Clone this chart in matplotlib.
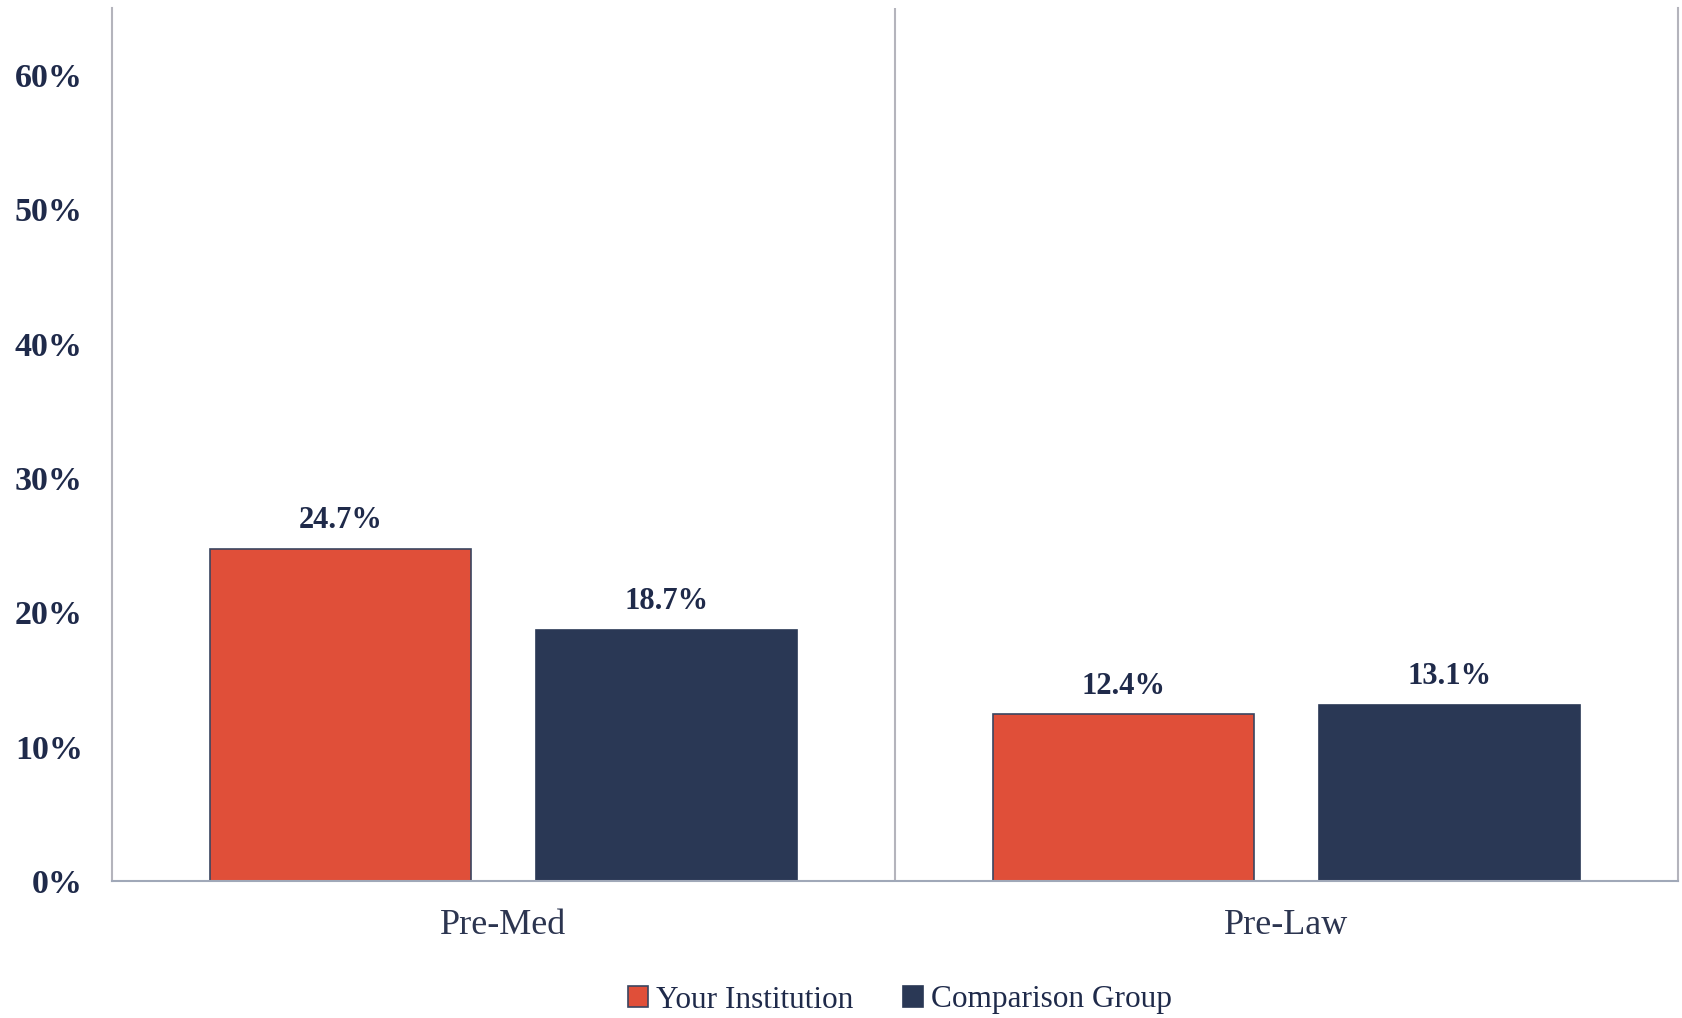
import numpy as np
import matplotlib.pyplot as plt
from matplotlib.ticker import FuncFormatter

# Chart data
categories = ['Pre-Med', 'Pre-Law']
series_names = ['Your Institution', 'Comparison Group']
your_inst = [24.7, 12.4]
comparison = [18.7, 13.1]

red = '#e04f39'
navy = '#2a3855'
text_col = '#1f2a4a'
grid_col = '#b4b4bc'

plt.rcParams['font.family'] = ['Liberation Serif', 'DejaVu Serif']

fig = plt.figure(figsize=(16.83, 10.18), dpi=100)
ax = fig.add_axes([112 / 1683, 1 - 881 / 1018, 1566 / 1683, 873 / 1018])

x = np.arange(len(categories))
width = 0.333
off = 0.208

b1 = ax.bar(x - off, your_inst, width, color=red, edgecolor='#3a4560', linewidth=1.2,
            label=series_names[0], zorder=3)
b2 = ax.bar(x + off, comparison, width, color=navy, edgecolor=navy, linewidth=1.2,
            label=series_names[1], zorder=3)

# Value labels above bars
for bars, vals in ((b1, your_inst), (b2, comparison)):
    for rect, v in zip(bars, vals):
        ax.annotate(f'{v:.1f}%', (rect.get_x() + rect.get_width() / 2, v),
                    xytext=(0, 10), textcoords='offset points', ha='center', va='bottom',
                    fontsize=22, fontweight='bold', color=text_col)

ax.set_xlim(-0.5, 1.5)
ax.set_ylim(0, 65)
ax.set_yticks(np.arange(0, 61, 10))
ax.yaxis.set_major_formatter(FuncFormatter(lambda v, p: f'{v:.0f}%'))
ax.set_xticks(x)
ax.set_xticklabels(categories)

ax.tick_params(axis='y', length=0, pad=21, labelsize=24.5, labelcolor=text_col)
for lab in ax.get_yticklabels():
    lab.set_fontweight('bold')
ax.tick_params(axis='x', length=0, pad=20, labelsize=26, labelcolor='#2c3550')

# Category separators
ax.axvline(0.5, color=grid_col, linewidth=1.5, zorder=1)
for side in ('left', 'right'):
    ax.spines[side].set_color(grid_col)
    ax.spines[side].set_linewidth(1.5)
ax.spines['top'].set_visible(False)
ax.spines['bottom'].set_color('#a0a8b8')
ax.spines['bottom'].set_linewidth(1.5)
ax.spines['bottom'].set_zorder(4)

leg = fig.legend(loc='center', bbox_to_anchor=(900 / 1683, 1 - 1000 / 1018), ncol=2, frameon=False,
                 fontsize=22.5, handlelength=0.65, handleheight=0.65, handletextpad=0.25,
                 columnspacing=1.6)
for t in leg.get_texts():
    t.set_color(text_col)

fig.savefig('out.png', dpi=100)
